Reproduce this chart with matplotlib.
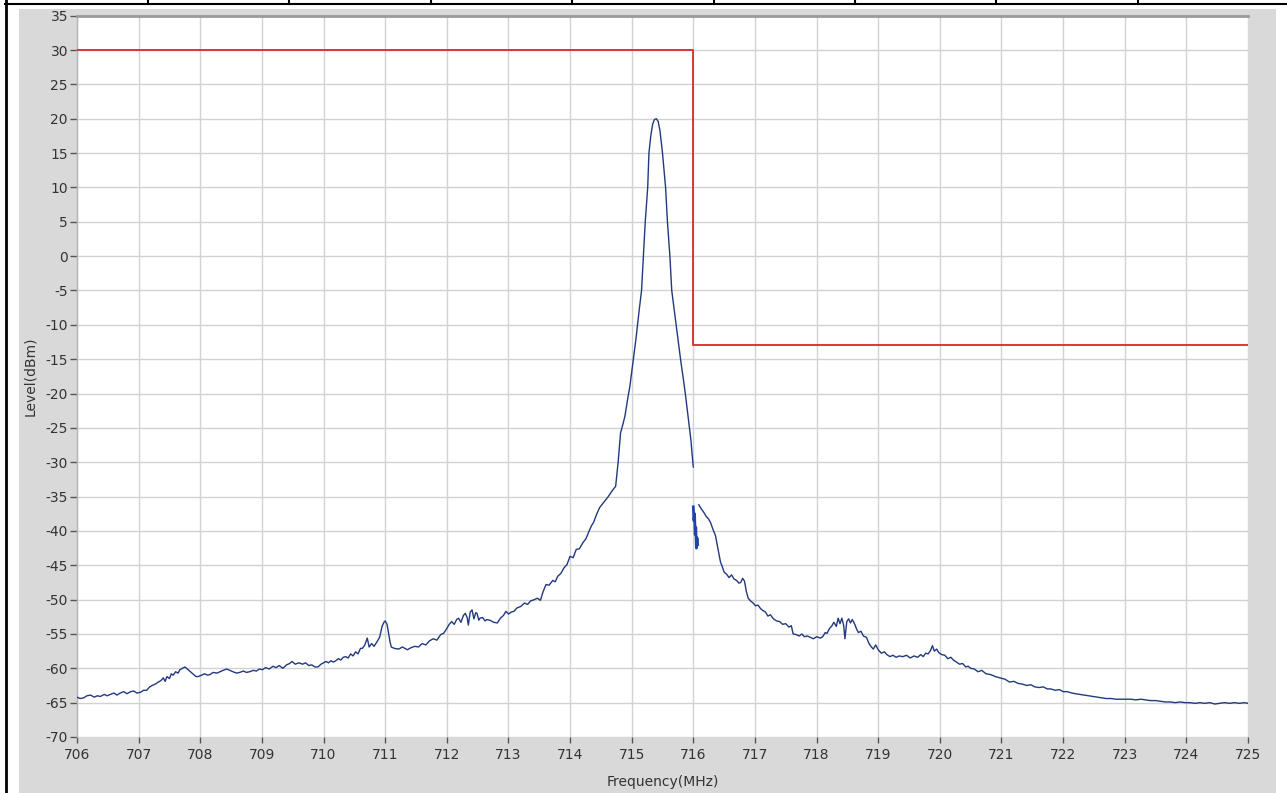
import numpy as np
import matplotlib
matplotlib.use("Agg")
import matplotlib.pyplot as plt
from matplotlib.patches import Rectangle
from matplotlib.lines import Line2D

plt.rcParams['axes.unicode_minus'] = False

# === Data ===
# spectrum trace, left of the 716 MHz edge
freq_left = [
    706.00, 706.05, 706.11, 706.16, 706.22, 706.28, 706.33, 706.38, 706.44, 706.49,
    706.54, 706.60, 706.65, 706.70, 706.76, 706.81, 706.87, 706.92, 706.97, 707.03,
    707.08, 707.13, 707.18, 707.22, 707.27, 707.32, 707.36, 707.40, 707.43, 707.46,
    707.50, 707.53, 707.56, 707.60, 707.64, 707.67, 707.71, 707.75, 707.79, 707.84,
    707.89, 707.93, 707.97, 708.02, 708.07, 708.12, 708.16, 708.21, 708.27, 708.32,
    708.37, 708.43, 708.48, 708.53, 708.59, 708.64, 708.70, 708.75, 708.80, 708.86,
    708.91, 708.96, 709.01, 709.06, 709.12, 709.18, 709.23, 709.28, 709.34, 709.40,
    709.45, 709.49, 709.54, 709.60, 709.66, 709.71, 709.76, 709.81, 709.86, 709.91,
    709.96, 710.00, 710.04, 710.08, 710.12, 710.16, 710.20, 710.24, 710.28, 710.32,
    710.36, 710.40, 710.44, 710.48, 710.52, 710.56, 710.60, 710.63, 710.67, 710.71,
    710.74, 710.78, 710.82, 710.87, 710.91, 710.95, 710.98, 711.00, 711.03, 711.05,
    711.08, 711.10, 711.15, 711.22, 711.28, 711.36, 711.42, 711.48, 711.54, 711.60,
    711.66, 711.72, 711.78, 711.84, 711.90, 711.95, 712.00, 712.04, 712.08, 712.12,
    712.16, 712.19, 712.23, 712.27, 712.30, 712.33, 712.35, 712.38, 712.41, 712.44,
    712.47, 712.49, 712.52, 712.54, 712.58, 712.62, 712.65, 712.70, 712.76, 712.82,
    712.87, 712.92, 712.96, 713.00, 713.05, 713.09, 713.14, 713.20, 713.26, 713.31,
    713.36, 713.42, 713.47, 713.52, 713.56, 713.61, 713.66, 713.72, 713.76, 713.80,
    713.85, 713.90, 713.95, 714.00, 714.05, 714.10, 714.15, 714.21, 714.26, 714.31,
    714.35, 714.38, 714.43, 714.48, 714.55, 714.62, 714.68, 714.74, 714.78, 714.82,
    714.86, 714.89, 714.94, 714.97, 715.02, 715.07, 715.12, 715.16, 715.19, 715.22,
    715.26, 715.28, 715.31, 715.34, 715.37, 715.40, 715.43, 715.46, 715.50, 715.55,
    715.58, 715.62, 715.65, 715.69, 715.73, 715.77, 715.80, 715.84, 715.87, 715.91,
    715.94, 715.96, 715.98, 716.00,
]
level_left = [
    -64.2, -64.4, -64.3, -64.0, -63.9, -64.2, -64.0, -64.1, -63.8, -64.0,
    -63.8, -63.6, -63.9, -63.6, -63.4, -63.7, -63.4, -63.3, -63.6, -63.5,
    -63.2, -63.2, -62.7, -62.5, -62.3, -62.0, -61.8, -61.4, -61.9, -61.2,
    -61.5, -60.8, -61.0, -60.5, -60.7, -60.2, -60.0, -59.8, -60.1, -60.5,
    -60.9, -61.2, -61.2, -61.0, -60.8, -61.0, -60.9, -60.6, -60.7, -60.5,
    -60.3, -60.1, -60.3, -60.5, -60.7, -60.6, -60.4, -60.6, -60.5, -60.3,
    -60.4, -60.1, -60.2, -59.9, -60.1, -59.7, -59.9, -59.6, -60.0, -59.5,
    -59.3, -59.0, -59.4, -59.2, -59.4, -59.2, -59.6, -59.5, -59.8, -59.8,
    -59.4, -59.2, -59.0, -59.2, -58.9, -59.1, -58.9, -58.6, -58.8, -58.4,
    -58.3, -58.5, -57.9, -58.2, -57.6, -57.9, -57.1, -57.1, -56.6, -55.6,
    -56.9, -56.4, -56.8, -56.1, -55.5, -53.9, -53.3, -53.1, -53.6, -54.6,
    -56.2, -56.9, -57.1, -57.2, -56.9, -57.3, -57.0, -56.8, -56.9, -56.4,
    -56.6, -56.0, -55.7, -55.9, -55.1, -54.9, -54.2, -53.6, -53.2, -53.6,
    -52.9, -52.7, -53.3, -52.3, -52.0, -52.6, -53.7, -51.8, -51.5, -52.8,
    -51.9, -52.0, -53.0, -52.7, -52.6, -53.1, -52.9, -53.0, -53.3, -53.4,
    -52.7, -52.3, -51.7, -52.1, -51.8, -51.7, -51.2, -51.0, -50.5, -50.7,
    -50.2, -50.0, -49.8, -50.1, -48.9, -47.8, -47.9, -47.2, -47.4, -46.6,
    -46.2, -45.4, -44.9, -43.7, -43.9, -42.7, -42.6, -41.7, -41.1, -40.0,
    -39.2, -38.8, -37.6, -36.6, -35.8, -35.0, -34.2, -33.5, -30.0, -25.7,
    -24.4, -23.3, -20.5, -19.0, -15.5, -12.0, -8.0, -5.0, 0.0, 5.0,
    10.0, 15.0, 17.5, 19.2, 19.9, 20.0, 19.6, 18.2, 15.0, 10.0,
    5.0, 0.0, -5.0, -7.8, -10.5, -13.5, -15.5, -18.0, -20.0, -23.0,
    -25.2, -26.7, -28.8, -30.7,
]

# short thick fragment right at the edge
freq_frag = [716.00, 716.01, 716.02, 716.03, 716.04, 716.05, 716.06, 716.07]
level_frag = [-36.5, -38.5, -37.5, -40.5, -39.5, -42.5, -41.0, -42.0]

# spectrum trace, right of the edge
freq_right = [
    716.09, 716.13, 716.17, 716.21, 716.25, 716.28, 716.32, 716.36, 716.40, 716.44,
    716.47, 716.50, 716.54, 716.58, 716.62, 716.66, 716.70, 716.74, 716.77, 716.80,
    716.83, 716.86, 716.89, 716.93, 716.97, 717.01, 717.05, 717.09, 717.13, 717.17,
    717.21, 717.25, 717.30, 717.35, 717.40, 717.45, 717.50, 717.55, 717.59, 717.62,
    717.67, 717.72, 717.76, 717.80, 717.85, 717.90, 717.95, 718.00, 718.06, 718.10,
    718.14, 718.17, 718.21, 718.25, 718.28, 718.32, 718.35, 718.38, 718.41, 718.44,
    718.46, 718.49, 718.52, 718.55, 718.58, 718.62, 718.65, 718.68, 718.72, 718.76,
    718.81, 718.85, 718.89, 718.92, 718.96, 719.00, 719.05, 719.10, 719.14, 719.19,
    719.24, 719.29, 719.34, 719.40, 719.46, 719.52, 719.58, 719.64, 719.69, 719.73,
    719.77, 719.81, 719.85, 719.88, 719.91, 719.95, 719.98, 720.03, 720.08, 720.13,
    720.18, 720.22, 720.27, 720.32, 720.37, 720.42, 720.46, 720.50, 720.56, 720.62,
    720.68, 720.75, 720.82, 720.90, 720.98, 721.06, 721.13, 721.20, 721.27, 721.34,
    721.41, 721.48, 721.54, 721.61, 721.68, 721.74, 721.80, 721.87, 721.94, 722.00,
    722.07, 722.14, 722.20, 722.27, 722.33, 722.40, 722.47, 722.54, 722.62, 722.70,
    722.78, 722.86, 722.94, 723.02, 723.10, 723.18, 723.26, 723.34, 723.42, 723.50,
    723.58, 723.66, 723.74, 723.82, 723.90, 723.98, 724.06, 724.14, 724.22, 724.30,
    724.38, 724.46, 724.54, 724.62, 724.70, 724.78, 724.86, 724.94, 725.00,
]
level_right = [
    -36.2, -36.8, -37.3, -37.9, -38.3, -38.8, -39.8, -40.7, -42.6, -44.5,
    -45.2, -46.0, -46.3, -46.8, -46.4, -47.0, -47.2, -47.6, -47.5, -46.9,
    -47.3, -48.8, -49.8, -50.2, -50.5, -50.9, -50.8, -51.3, -51.6, -51.8,
    -52.4, -52.2, -52.8, -53.1, -53.2, -53.6, -53.5, -54.0, -53.8, -55.0,
    -55.1, -55.3, -55.0, -55.4, -55.3, -55.5, -55.7, -55.4, -55.6, -55.4,
    -54.8, -54.9, -54.2, -53.8, -53.3, -53.9, -52.7, -53.5, -52.7, -53.8,
    -55.7, -53.2, -52.8, -53.4, -52.9, -53.6, -54.3, -54.8, -54.6, -55.3,
    -55.5, -56.4, -56.9, -57.2, -56.6, -57.3, -57.8, -57.6, -58.0, -58.3,
    -58.1, -58.4, -58.2, -58.3, -58.1, -58.5, -58.2, -58.4, -58.0, -58.3,
    -57.8, -57.9, -57.4, -56.7, -57.5, -57.2, -57.7, -58.0, -58.1, -58.6,
    -58.4, -58.8, -59.1, -59.4, -59.3, -59.8, -59.7, -60.0, -60.1, -60.5,
    -60.3, -60.8, -60.9, -61.2, -61.4, -61.6, -62.0, -61.9, -62.2, -62.3,
    -62.5, -62.4, -62.7, -62.8, -62.7, -63.0, -63.0, -63.2, -63.1, -63.4,
    -63.4, -63.6, -63.7, -63.8, -63.9, -64.0, -64.1, -64.2, -64.3, -64.4,
    -64.4, -64.5, -64.5, -64.5, -64.5, -64.6, -64.5, -64.6, -64.7, -64.7,
    -64.8, -64.9, -64.9, -65.0, -64.9, -65.0, -65.0, -65.1, -65.0, -65.1,
    -65.0, -65.2, -65.1, -65.0, -65.1, -65.0, -65.1, -65.0, -65.1,
]

# limit mask (step)
mask_freq = [706, 716, 716, 725]
mask_level = [30, 30, -13, -13]

x_ticks = list(range(706, 726))
y_ticks = list(range(-70, 36, 5))

W, H = 1287, 793
fig = plt.figure(figsize=(W / 100, H / 100), dpi=100)
fig.patch.set_facecolor('white')


def fx(px):
    return px / W


def fy(py):
    return 1 - py / H


# grey panel behind the graph
fig.patches.append(Rectangle((fx(19), 0), fx(1276) - fx(19), fy(9), transform=fig.transFigure,
                             facecolor='#d9d9d9', edgecolor='none', zorder=-10))

# black table border lines from the page
fig.add_artist(Line2D([fx(6), fx(6)], [0, 1], color='black', lw=2.0, transform=fig.transFigure))
fig.add_artist(Line2D([fx(5), 1], [fy(4), fy(4)], color='black', lw=1.5, transform=fig.transFigure))
for k in range(8):
    xs = 148 + k * 141.4
    fig.add_artist(Line2D([fx(xs), fx(xs)], [fy(4), 1], color='black', lw=1.5,
                          transform=fig.transFigure))

ax = fig.add_axes([fx(77), fy(737), fx(1248) - fx(77), fy(15.7) - fy(737)])
ax.set_zorder(5)
ax.set_facecolor('white')

ax.plot(mask_freq, mask_level, color='#d8282c', lw=1.3, zorder=3)
ax.plot(freq_left, level_left, color='#22397f', lw=1.0, zorder=4)
ax.plot(freq_frag, level_frag, color='#1f44a8', lw=2.0, zorder=4)
ax.plot(freq_right, level_right, color='#22397f', lw=1.0, zorder=4)

ax.set_xlim(706, 725)
ax.set_ylim(-70, 35)
ax.set_xticks(x_ticks)
ax.set_yticks(y_ticks)
ax.grid(True, color='#d2d2d2', lw=1.0)
ax.set_axisbelow(True)

ax.tick_params(axis='y', length=5, width=1, color='#555555', labelsize=10,
               labelcolor='#333333', pad=1.5)
ax.tick_params(axis='x', length=4, width=1, color='#555555', labelsize=10,
               labelcolor='#333333', pad=4)

for side in ['bottom', 'right']:
    ax.spines[side].set_visible(False)
ax.spines['top'].set_color('#9a9a9a')
ax.spines['top'].set_linewidth(2)
ax.spines['left'].set_color('#b5b5b5')
ax.spines['left'].set_linewidth(1)

ax.set_xlabel('Frequency(MHz)', fontsize=10, color='#333333')
ax.set_ylabel('Level(dBm)', fontsize=10, color='#333333')
ax.xaxis.set_label_coords(0.5, -0.052)
ax.yaxis.set_label_coords(-0.034, 0.5)

fig.savefig('out.png', dpi=100)
